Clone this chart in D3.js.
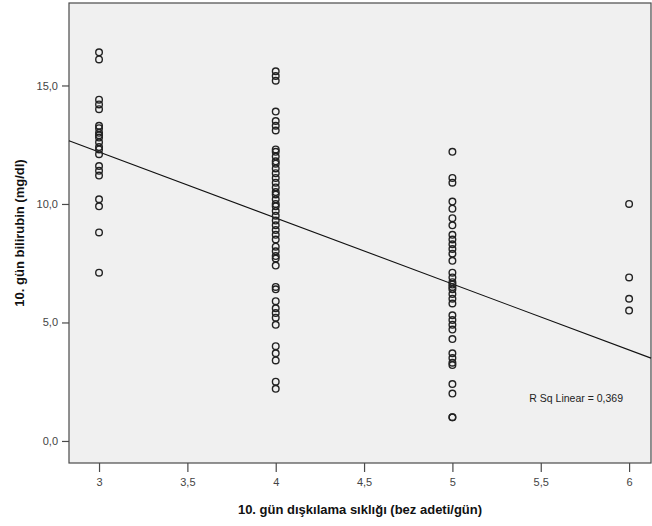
<!DOCTYPE html>
<html>
<head>
<meta charset="utf-8">
<script src="https://cdn.jsdelivr.net/npm/d3@7.9.0/dist/d3.min.js"></script>
<style>
  body { margin: 0; background: #fff; }
  svg { display: block; font-family: "Liberation Sans", Arial, sans-serif; }
</style>
</head>
<body>
<div id="chart"></div>
<script>
// bilirubin values (mg/dl) at each defecation frequency
const freq3 = [16.4, 16.1, 14.4, 14.2, 14.0, 13.3, 13.2, 13.0, 12.9, 12.8, 12.6, 12.4, 12.3, 12.1,
  11.6, 11.4, 11.2, 10.2, 9.9, 8.8, 7.1];
const freq4 = [15.6, 15.4, 15.2, 13.9, 13.5, 13.3, 13.1, 12.3, 12.2, 12.0, 11.8, 11.7, 11.5, 11.3,
  11.1, 10.9, 10.7, 10.5, 10.4, 10.2, 10.0, 9.9, 9.7, 9.5, 9.3, 9.1, 8.9, 8.7, 8.5, 8.2, 8.0, 7.8,
  7.7, 7.4, 6.5, 6.4, 5.9, 5.6, 5.4, 5.2, 4.9, 4.0, 3.7, 3.4, 2.5, 2.2];
const freq5 = [12.2, 11.1, 10.9, 10.1, 9.8, 9.4, 9.1, 8.7, 8.5, 8.3, 8.1, 7.9, 7.6, 7.1, 6.9, 6.7,
  6.6, 6.5, 6.4, 6.2, 6.0, 5.8, 5.3, 5.1, 4.9, 4.7, 4.3, 3.7, 3.5, 3.3, 3.2, 2.4, 2.0, 1.0, 1.0];
const freq6 = [10.0, 6.9, 6.0, 5.5];

const xTicks = [3, 3.5, 4, 4.5, 5, 5.5, 6];
const yTicks = [0, 5, 10, 15];

// fitted line
const fitIntercept = 20.55;
const fitSlope = -2.785;
const rSquared = "0,369";

const xTitle = "10. gün dışkılama sıklığı (bez adeti/gün)";
const yTitle = "10. gün bilirubin (mg/dl)";

const points = [
  ...freq3.map((v) => ({ x: 3, y: v })),
  ...freq4.map((v) => ({ x: 4, y: v })),
  ...freq5.map((v) => ({ x: 5, y: v })),
  ...freq6.map((v) => ({ x: 6, y: v })),
];

const width = 652;
const height = 526;
const plot = { left: 69, right: 651, top: 3, bottom: 463 };

const svg = d3.select("#chart").append("svg")
  .attr("width", width)
  .attr("height", height);

const xScale = d3.scaleLinear().domain([2.83, 6.124]).range([plot.left, plot.right]);
const yScale = d3.scaleLinear().domain([-0.93, 18.48]).range([plot.bottom, plot.top]);

const comma = (fmt) => (d) => d3.format(fmt)(d).replace(".", ",");

svg.append("rect")
  .attr("x", plot.left)
  .attr("y", plot.top)
  .attr("width", plot.right - plot.left)
  .attr("height", plot.bottom - plot.top)
  .attr("fill", "#f0f0f0")
  .attr("stroke", "#4a4a4a")
  .attr("stroke-width", 1.2);

const xAxis = svg.append("g")
  .attr("transform", `translate(0,${plot.bottom})`)
  .call(d3.axisBottom(xScale).tickValues(xTicks).tickFormat(comma("")).tickSize(9).tickSizeOuter(0).tickPadding(6));

const yAxis = svg.append("g")
  .attr("transform", `translate(${plot.left},0)`)
  .call(d3.axisLeft(yScale).tickValues(yTicks).tickFormat(comma(".1f")).tickSize(7).tickSizeOuter(0).tickPadding(4));

for (const g of [xAxis, yAxis]) {
  g.select(".domain").remove();
  g.selectAll(".tick line").attr("stroke", "#4a4a4a").attr("stroke-width", 1.2);
  g.selectAll(".tick text")
    .attr("fill", "#444")
    .style("font-size", "11px")
    .style("font-family", "'Liberation Sans', Arial, sans-serif");
}

// regression line
const [x0, x1] = xScale.domain();
svg.append("line")
  .attr("x1", xScale(x0))
  .attr("y1", yScale(fitIntercept + fitSlope * x0))
  .attr("x2", xScale(x1))
  .attr("y2", yScale(fitIntercept + fitSlope * x1))
  .attr("stroke", "#111")
  .attr("stroke-width", 1.1);

svg.append("g")
  .selectAll("circle")
  .data(points)
  .join("circle")
  .attr("cx", (d) => xScale(d.x))
  .attr("cy", (d) => yScale(d.y))
  .attr("r", 3.3)
  .attr("fill", "none")
  .attr("stroke", "#222")
  .attr("stroke-width", 1.4);

svg.append("text")
  .attr("x", 623)
  .attr("y", 402)
  .attr("text-anchor", "end")
  .attr("fill", "#222")
  .style("font-size", "10.5px")
  .text(`R Sq Linear = ${rSquared}`);

svg.append("text")
  .attr("x", (plot.left + plot.right) / 2)
  .attr("y", 514)
  .attr("text-anchor", "middle")
  .attr("fill", "#111")
  .style("font-size", "13px")
  .style("font-weight", "bold")
  .text(xTitle);

svg.append("text")
  .attr("transform", `translate(24,${(plot.top + plot.bottom) / 2}) rotate(-90)`)
  .attr("text-anchor", "middle")
  .attr("fill", "#111")
  .style("font-size", "13px")
  .style("font-weight", "bold")
  .text(yTitle);
</script>
</body>
</html>
